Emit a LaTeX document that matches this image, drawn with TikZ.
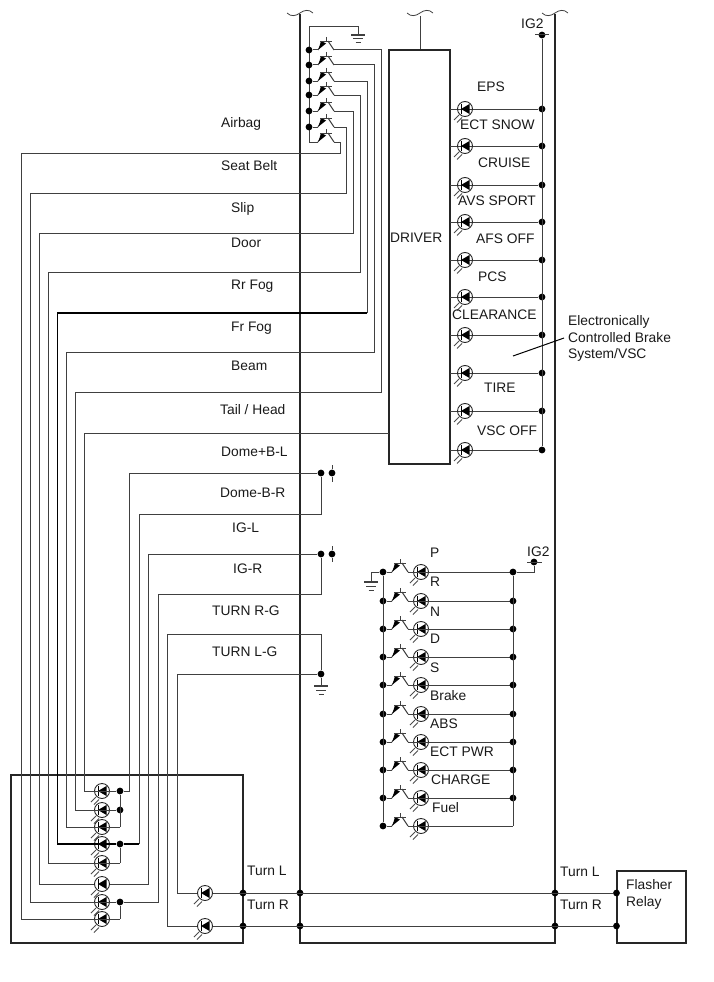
\documentclass[tikz,border=0pt]{standalone}
\usepackage{fontspec}
\setmainfont{Liberation Sans}
\newcommand\lampat[3]{%
  \node[lampc] (#1) at (#2,#3) {};
  \fill[black] (#2-4,#3) -- (#2+4.5,#3-5) -- (#2+4.5,#3+5) -- cycle;
  \draw[black,line width=.9pt] (#2-4,#3-5) -- (#2-4,#3+5);
  \draw[rayl] (#2-6,#3+6) -- (#2-11,#3+11);
  \draw[rayl] (#2-3,#3+8.5) -- (#2-8,#3+13.5);
}
\newcommand\trans[3]{%
  \coordinate (#1i) at (#2+9,#3);
  \coordinate (#1o) at (#2+25,#3);
  \draw[wire] (#2+9,#3) -- (#2+12,#3-5);
  \fill[black] (#2+9.5,#3-0.5) -- (#2+12,#3-9) -- (#2+17,#3-6.5) -- cycle;
  \draw[wire,line width=.8pt] (#2+11,#3-9) -- (#2+23,#3-9);
  \draw[wire,line width=.8pt] (#2+17,#3-13) -- (#2+17,#3-9);
  \draw[wire] (#2+19,#3-9) -- (#2+25,#3);
}
\newcommand\grnd[3]{%
  \coordinate (#1) at (#2,#3);
  \draw[wire,line width=1.3pt] (#2-7,#3) -- (#2+7,#3);
  \draw[wire] (#2-5,#3+4) -- (#2+5,#3+4);
  \draw[wire] (#2-2.5,#3+8) -- (#2+2.5,#3+8);
}
\newcommand\wavy[2]{%
  \draw[wire,line width=.8pt] (#1-13,#2) .. controls (#1-9,#2+4) and (#1-4,#2+3) .. (#1,#2) .. controls (#1+4,#2-3) and (#1+9,#2-4) .. (#1+13,#2);
}
\tikzset{
  wire/.style={draw=black!75,line width=1pt},
  blackwire/.style={draw=black,line width=1.4pt},
  frame/.style={draw=black!85,line width=1.8pt},
  rayl/.style={draw=black!70,line width=.75pt},
  lampc/.style={circle,draw=black!85,line width=.9pt,minimum size=15pt,inner sep=0pt},
  dotn/.style={circle,fill=black,inner sep=0pt,minimum size=6.8pt},
  lab/.style={anchor=base west,inner sep=0pt,font=\fontsize{13.8}{15}\selectfont,text=black!90},
  box/.style={frame,fill=none,inner sep=0pt},
}
\begin{document}
\begin{tikzpicture}[x=1pt,y=-1pt]
\useasboundingbox (0,0) rectangle (713,982);
% frames
\draw[frame] (300,14) -- (300,943) -- (555,943) -- (555,14);
\wavy{300}{13}\wavy{555}{13}\wavy{420}{13}
\node[box,minimum width=61pt,minimum height=414pt] (drv) at (419.5,257) {};
\node[box,minimum width=232pt,minimum height=168pt] (panel) at (127,859) {};
\node[box,minimum width=69pt,minimum height=72pt] (relay) at (651.5,907) {};
\coordinate (drvT) at (420,16);
\draw[wire] (drvT) -- (drv.north -| drvT);
% IG2 upper bus
\node[dotn] (igT) at (542,35) {};
\draw[wire] (535,35) -- (549,35);
\foreach \n/\y in {a/109,b/146,c/185,d/222,e/260,f/297,g/335,h/373,i/411,j/450}{
  \node[dotn] (u\n d) at (542,\y) {};
  \coordinate (u\n s) at (450,\y);
  \draw[wire] (u\n s) -- (u\n d);
  \lampat{u\n}{465}{\y}
}
\draw[wire] (igT) -- (ujd);
% transistor ladder upper
\coordinate (gu) at (309,27);
\grnd{guG}{358}{35}
\draw[wire] (309,142) -- (gu) -- (358,27) -- (guG);
\foreach \n/\y in {1/50,2/65,3/81,4/95,5/111,6/127}{
  \node[dotn] (t\n d) at (309,\y) {};
  \trans{t\n}{309}{\y}
  \draw[wire] (t\n d) -- (t\n i);
}
\trans{t7}{309}{142}
\draw[wire] (309,142) -- (t7i);
% lower LEDs in panel
\foreach \n/\y in {1/791,2/810,3/827,4/844,5/863,6/884,7/902,8/919}{
  \lampat{p\n}{102}{\y}
}
\lampat{q1}{205}{893}
\lampat{q2}{205}{926}
\node[dotn] (j1) at (120,791) {};
\node[dotn] (j2) at (120,810) {};
\node[dotn] (j4) at (120,844) {};
\node[dotn] (j7) at (120,902) {};
\draw[wire] (j1) -- (120,827);
\draw[wire] (j4) -- (120,863);
\draw[wire] (j7) -- (120,919);
% left harness
\draw[wire] (t7o) -- (340,142) -- (340,153) -- (21,153) -- (21,919) -- (120,919);
\draw[wire] (t6o) -- (346,127) -- (346,193) -- (30,193) -- (30,902) -- (j7);
\draw[wire] (t5o) -- (353,111) -- (353,233) -- (39,233) -- (39,884) -- (p6);
\draw[wire] (t4o) -- (360.5,95) -- (360.5,272) -- (48,272) -- (48,863) -- (120,863);
\draw[blackwire] (367,313) -- (57.5,313) -- (57.5,844) -- (j4);
\draw[wire] (t3o) -- (367,81) -- (367,313);
\draw[wire] (t2o) -- (374.5,65) -- (374.5,352) -- (66.5,352) -- (66.5,827) -- (120,827);
\draw[wire] (t1o) -- (381,50) -- (381,392) -- (75.5,392) -- (75.5,810) -- (j2);
\coordinate (drvL) at (389,433);
\draw[wire] (drvL) -- (84.5,433) -- (84.5,791) -- (j1);
% right harness
\node[dotn] (k1) at (321,473) {};
\node[dotn] (k1b) at (332,473) {};
\node[dotn] (k2) at (321,554) {};
\node[dotn] (k2b) at (332,554) {};
\node[dotn] (k3) at (321,674) {};
\draw[wire] (k1b) -- (332,465) (k1b) -- (332,482);
\draw[wire] (k2b) -- (332,546) (k2b) -- (332,562);
\draw[wire] (k1) -- (129.5,473) -- (129.5,791) -- (j1);
\draw[wire] (k1) -- (321,514) -- (139,514) -- (139,844);
\draw[blackwire] (139,844) -- (j4);
\draw[wire] (k2) -- (148,554) -- (148,884) -- (p6);
\draw[wire] (k2) -- (321,594) -- (158,594) -- (158,902) -- (j7);
\draw[wire] (k3) -- (321,634) -- (167,634) -- (167,926) -- (q2);
\draw[wire] (k3) -- (177,674) -- (177,893) -- (q1);
\grnd{g3}{321}{686}
\draw[wire] (k3) -- (g3);
% Turn buses
\node[dotn] (c1) at (243,893) {};
\node[dotn] (c2) at (243,926) {};
\node[dotn] (c3) at (300,893) {};
\node[dotn] (c4) at (300,926) {};
\node[dotn] (c5) at (555,893) {};
\node[dotn] (c6) at (555,926) {};
\node[dotn] (c7) at (616.5,893) {};
\node[dotn] (c8) at (616.5,926) {};
\draw[wire] (q1) -- (c7);
\draw[wire] (q2) -- (c8);
\draw[wire] (p1) -- (j1);\draw[wire] (p2) -- (j2);\draw[wire] (p3) -- (120,827);
\draw[wire] (p5) -- (120,863);\draw[wire] (p8) -- (120,919);
% shift-lamp ladder
\node[dotn] (igL) at (534,562) {};
\draw[wire] (527,562) -- (542,562);
\grnd{gl}{371}{582}
\foreach \n/\y in {a/572,b/601,c/629,d/657,e/685,f/714,g/742,h/770,i/798,j/826}{
  \node[dotn] (l\n d) at (383,\y) {};
  \trans{l\n}{383}{\y}
  \draw[wire] (l\n d) -- (l\n i);
  \lampat{l\n}{421}{\y}
  \coordinate (r\n) at (513,\y);
  \draw[wire] (l\n o) -- (r\n);
}
\foreach \n/\y in {a/572,b/601,c/629,d/657,e/685,f/714,g/742,h/770,i/798}{
  \node[dotn] (r\n d) at (513,\y) {};
}
\draw[wire] (lad) -- (ljd);
\draw[wire] (rad) -- (rj);
\draw[wire] (rad) -- (534,572) -- (igL);
\draw[wire] (lad) -- (371,572) -- (gl);
% leader
\node[lab] (ecb) at (568,325) {Electronically};
\node[lab] (ecb2) at (568,342) {Controlled Brake};
\node[lab] (ecb3) at (568,358) {System/VSC};
\coordinate (ldr) at (513,356);
\coordinate (ldrE) at (564,338);
\draw[black,line width=1pt] (ldr) -- (ldrE);
% texts
\foreach \t/\x/\y in {Airbag/221/127,Seat Belt/221/170,Slip/231/212,Door/231/247,Rr Fog/231/289,Fr Fog/231/331,Beam/231/370,{Tail / Head}/220/414,Dome+B-L/221/456,Dome-B-R/220/497,IG-L/232/532,IG-R/233/573,TURN R-G/212/615,TURN L-G/212/656,
  EPS/477/91,ECT SNOW/460/129,CRUISE/478/167,AVS SPORT/458/205,AFS OFF/476/243,PCS/478/281,CLEARANCE/452/319,TIRE/484/392,VSC OFF/477/435,IG2/521/29,DRIVER/390/242,
  P/430/557,R/430/586,N/430/616,D/430/643,S/430/672,Brake/430/700,ABS/430/728,ECT PWR/430/756,CHARGE/431/784,Fuel/432/812,IG2/527/556,
  Turn L/247/875,Turn R/247/909,Turn L/560/876,Turn R/560/909,Flasher/626/889,Relay/626/906}{
  \node[lab] at (\x,\y) {\t};
}
\end{tikzpicture}
\end{document}
